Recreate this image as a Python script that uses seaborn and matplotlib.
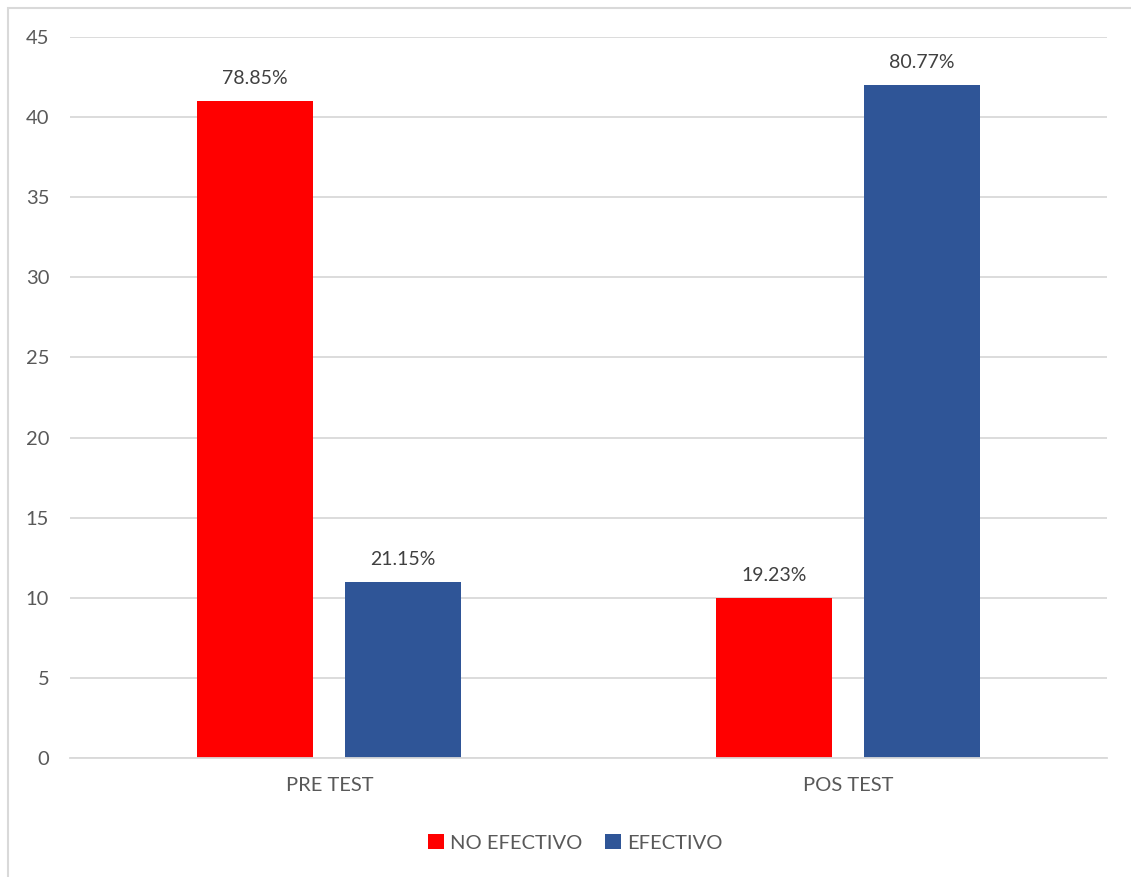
import matplotlib
matplotlib.use("Agg")
import matplotlib.pyplot as plt
import seaborn as sns
import pandas as pd
from matplotlib.patches import Rectangle

categories = ["PRE TEST", "POS TEST"]
series_names = ["NO EFECTIVO", "EFECTIVO"]
no_efectivo = [41, 10]
efectivo = [11, 42]
labels_no = ["78.85%", "19.23%"]
labels_ef = ["21.15%", "80.77%"]
colors = ["#FF0000", "#2F5597"]

df = pd.DataFrame({
    "test": categories * 2,
    "serie": [series_names[0]] * 2 + [series_names[1]] * 2,
    "valor": no_efectivo + efectivo,
})

sns.set_theme(style="white")
plt.rcParams['font.family'] = ['Lato', 'DejaVu Sans']
text_color = "#595959"

fig = plt.figure(figsize=(11.31, 8.77), dpi=100)
ax = fig.add_axes([70/1131, 1-758/877, (1107-70)/1131, (758-37)/877])

sns.barplot(data=df, x="test", y="valor", hue="serie", hue_order=series_names,
            order=categories, palette=colors, width=0.571, gap=0.216,
            saturation=1, linewidth=0, ax=ax, legend=True)

ax.set_ylim(0, 45)
ax.set_yticks(range(0, 46, 5))
ax.set_xlim(-0.5, 1.5)
ax.yaxis.grid(True, color="#D9D9D9", linewidth=1.3)
ax.set_axisbelow(True)
for s in ["top", "right", "left"]:
    ax.spines[s].set_visible(False)
ax.spines["bottom"].set_color("#D9D9D9")
ax.spines["bottom"].set_linewidth(1.3)
ax.set_xlabel("")
ax.set_ylabel("")
ax.tick_params(axis="both", length=0, labelsize=14.5, colors=text_color)
ax.tick_params(axis="x", pad=14)
ax.tick_params(axis="y", pad=15)

for cont, labs in zip(ax.containers, [labels_no, labels_ef]):
    ax.bar_label(cont, labels=labs, padding=10, fontsize=14, color="#404040")

leg = ax.legend(loc="upper center", bbox_to_anchor=(0.487, -0.08), ncol=2,
                frameon=False, fontsize=14.5, handlelength=0.8, handleheight=0.8,
                handletextpad=0.3, columnspacing=1.1, labelcolor=text_color)

fig.patches.append(Rectangle((8/1131, -0.01), 1.02 - 8/1131, 1 - 8/877 + 0.01,
                             transform=fig.transFigure, fill=False,
                             edgecolor="#D9D9D9", linewidth=1.5))

fig.savefig("out.png", dpi=100)
